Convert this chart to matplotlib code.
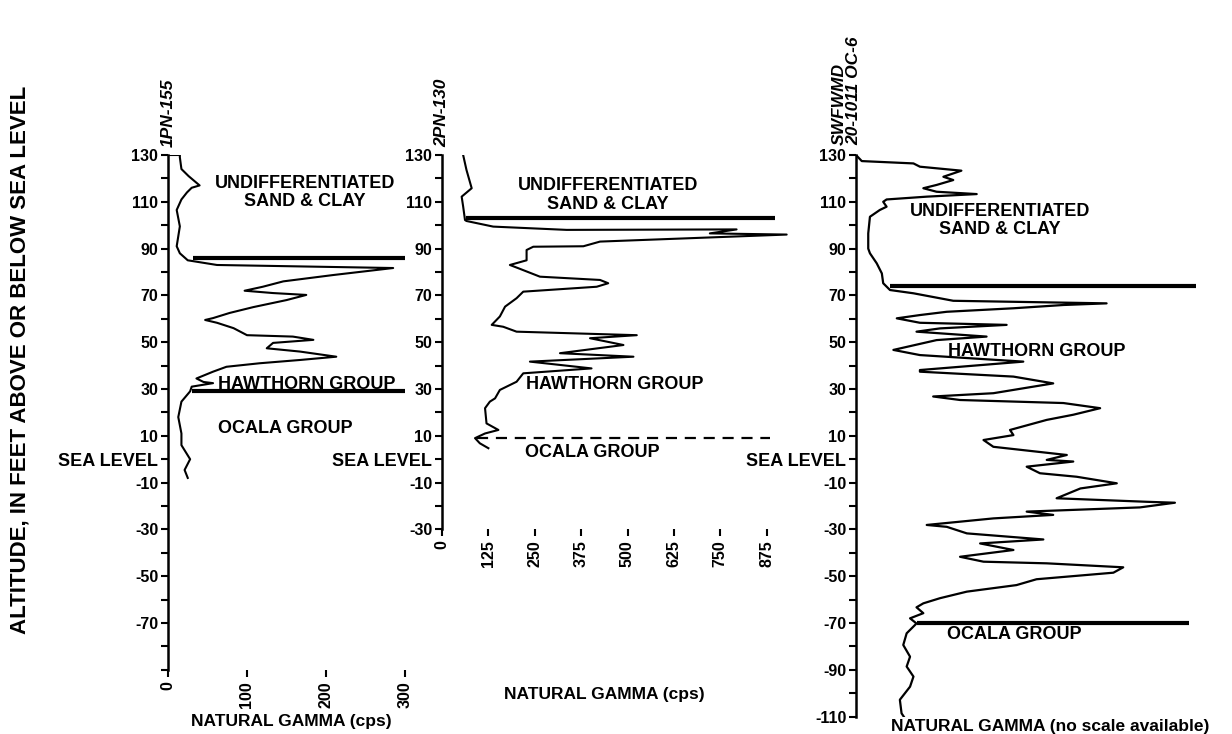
import matplotlib.pyplot as plt

plt.rcParams['font.family'] = ['Liberation Sans', 'DejaVu Sans']
plt.rcParams['font.weight'] = 'bold'

# ---- well 1PN-155 (natural gamma, cps vs altitude, ft) ----
alt_155 = [130, 130, 129, 124, 121, 117, 116, 114, 111, 106.5, 99.5, 91, 88, 85, 83, 81.7,
           78.7, 76, 73.7, 72, 71, 70.2, 68, 65, 62.5, 60.3, 59.5, 58.3, 56, 53, 52.4, 51,
           49.7, 47.4, 46, 43.8, 42.4, 41, 39.5, 37.4, 34.5, 33, 32.5, 31, 29, 24.6, 18,
           11, 6, 0, -4.6, -8]
gam_155 = [0, 15, 15, 17, 26, 40, 30, 24, 17, 11, 15, 11, 15, 25, 62, 285,
           209, 146, 120, 97, 133, 175, 150, 108, 78, 57, 47, 62, 83, 100, 158, 184,
           133, 125, 167, 213, 167, 116, 74, 57, 36, 45, 57, 30, 28, 17, 13,
           17, 17, 28, 21, 25]

# ---- well 2PN-130 ----
alt_130 = [130, 123.6, 115.8, 112.2, 108, 102.2, 101.8, 99.4, 98, 98.2, 96.5, 96, 93, 91,
           90.8, 89.4, 85, 83, 81.6, 78, 76.6, 75.2, 73.7, 71.6, 68.8, 65.2, 61, 57.4,
           56.6, 54.5, 53, 51.7, 48.8, 45.3, 43.8, 41.7, 38.8, 36.7, 33.1, 29.6, 26,
           24.6, 21.8, 15.3, 12.5, 11, 9, 6.8, 4.7]
gam_130 = [57, 66, 80, 53, 57, 62, 66, 138, 336, 794, 722, 929, 426, 381,
           246, 228, 228, 183, 206, 264, 426, 448, 417, 219, 201, 170, 156, 134,
           165, 201, 525, 399, 489, 318, 516, 237, 403, 219, 201, 156, 143,
           129, 116, 120, 152, 116, 89, 102, 125]

# ---- well SWFWMD 20-1011 OC-6 (relative gamma, no scale) ----
alt_oc6 = [130, 127.4, 126.4, 125, 123.3, 120.7, 119.3, 117.2, 115.8, 114.3, 113.3, 112.2,
           111, 110, 107.9, 106.5, 103.6, 96.5, 90, 88, 83.7, 79.4, 75.2, 72.3, 70.9, 67.7,
           66.6, 65.9, 64.5, 63, 61.6, 60.2, 58.3, 57.4, 55.9, 54.5, 52.4, 50.9, 46.7,
           44.5, 41.7, 38.1, 37.4, 35.3, 32.4, 28.2, 26.8, 25.3, 24, 21.8, 19, 16.8, 12.5,
           10.3, 8.2, 5.3, 1.8, -0.3, -1, -3.2, -6, -7.5, -10.3, -12.5, -16.7, -18.2,
           -18.6, -20.6, -22.4, -23.8, -25.3, -28.1, -28.9, -31.7, -34.3, -36, -38.8,
           -41.7, -43.8, -44.5, -46.2, -48.5, -51.3, -53.8, -56.6, -59.4, -61.6, -63.3,
           -65.8, -68, -70.2, -74.4, -79.4, -84.4, -88.6, -92.9, -97.2, -102.8, -108.6, -111]
gam_oc6 = [0, 1.7, 16.9, 18.8, 31, 25.7, 28.6, 23.7, 19.8, 23.7, 35.5, 20.8,
           9, 8, 9, 7, 4.1, 3.6, 3.6, 4.1, 6.1, 7.6, 8, 10, 16.9, 28.6,
           73.7, 61, 46.3, 26.7, 18.8, 12, 18.8, 44.3, 24.7, 17.8, 38.4, 23.7, 11,
           18.8, 49.2, 18.8, 18.8, 46.3, 58, 40.4, 22.7, 30.6, 61, 71.8, 63.9, 56.1, 45.3,
           46.3, 37.5, 40.4, 62, 56.1, 63.9, 50.2, 54.1, 64.9, 76.7, 66, 59, 85.5,
           93.8, 83.5, 50.2, 58, 40.4, 20.8, 26.7, 32.6, 55.1, 36.5, 46.3,
           30.6, 37.5, 56.1, 78.6, 75.7, 53.1, 47.2, 32.6, 24.7, 19.8, 17.8,
           19.8, 15.9, 17.8, 14.9, 13.9, 15.9, 14.9, 16.9, 15.9, 12.9, 13.4, 14.5]

# formation contacts: (altitude, x start, x end)
contacts_155 = [(86, 32, 300), (29, 30, 300)]
contacts_130 = [(103, 66, 898)]
ocala_130 = (9, 93, 884)
contacts_oc6 = [(74, 10, 100), (-70, 18, 98)]

W, H = 1232, 734
PX_FT = 2.34
fig = plt.figure(figsize=(W / 100, H / 100), dpi=100)
fig.patch.set_facecolor('white')


def make_ax(left_px, xmax, px_per_unit, ymin, label_min):
    height = (130 - ymin) * PX_FT
    width = xmax * px_per_unit
    ax = fig.add_axes([left_px / W, (H - 155 - height) / H, width / W, height / H])
    ax.set_xlim(0, xmax)
    ax.set_ylim(ymin, 130)
    for s in ['top', 'right', 'bottom']:
        ax.spines[s].set_visible(False)
    ax.spines['left'].set_linewidth(1.8)
    ax.patch.set_alpha(0)
    yt = list(range(130, ymin - 1, -10))
    labels = []
    for v in yt:
        if v == 0:
            labels.append('SEA LEVEL')
        elif (130 - v) % 20 == 0 and v >= label_min:
            labels.append(str(v))
        else:
            labels.append('')
    ax.set_yticks(yt)
    ax.set_yticklabels(labels)
    ax.tick_params(axis='y', direction='out', length=5, width=1.5, labelsize=11.5, pad=2)
    ax.tick_params(axis='x', direction='out', length=5, width=1.5, labelsize=11.5,
                   labelrotation=90, pad=3)
    for t in ax.get_yticklabels():
        if t.get_text() == 'SEA LEVEL':
            t.set_fontsize(13)
    return ax


ax1 = make_ax(168, 300, 0.79, -90, -70)
ax2 = make_ax(442, 950, 0.371, -30, -30)
ax3 = make_ax(856, 100, 3.4, -110, -110)

ax1.set_xticks([0, 100, 200, 300])
ax2.set_xticks([0, 125, 250, 375, 500, 625, 750, 875])
ax3.set_xticks([])

lab = dict(fontsize=13, ha='center', va='center', linespacing=1.12)

# panel 1
ax1.plot(gam_155, alt_155, color='black', lw=1.5)
for y, x0, x1 in contacts_155:
    ax1.plot([x0, x1], [y, y], color='black', lw=3.0, solid_capstyle='butt')
ax1.text(173, 114, "UNDIFFERENTIATED\nSAND & CLAY", **lab)
ax1.text(176, 32, "HAWTHORN GROUP", **lab)
ax1.text(149, 13, "OCALA GROUP", **lab)
ax1.annotate("1PN-155", xy=(0, 1), xycoords='axes fraction', xytext=(0, 6),
             textcoords='offset points', rotation=90, ha='center', va='bottom',
             fontstyle='italic', fontsize=12.5)
ax1.text(0.52, -0.085, "NATURAL GAMMA (cps)", transform=ax1.transAxes,
         ha='center', va='top', fontsize=12.5)

# panel 2
ax2.plot(gam_130, alt_130, color='black', lw=1.5)
for y, x0, x1 in contacts_130:
    ax2.plot([x0, x1], [y, y], color='black', lw=3.0, solid_capstyle='butt')
ax2.plot([ocala_130[1], ocala_130[2]], [ocala_130[0]] * 2, color='black', lw=1.6,
         linestyle=(0, (5, 3.5)))
ax2.text(447, 113, "UNDIFFERENTIATED\nSAND & CLAY", **lab)
ax2.text(466, 32, "HAWTHORN GROUP", **lab)
ax2.text(405, 3, "OCALA GROUP", **lab)
ax2.annotate("2PN-130", xy=(0, 1), xycoords='axes fraction', xytext=(0, 6),
             textcoords='offset points', rotation=90, ha='center', va='bottom',
             fontstyle='italic', fontsize=12.5)
ax2.text(0.46, -0.42, "NATURAL GAMMA (cps)", transform=ax2.transAxes,
         ha='center', va='top', fontsize=12.5)

# panel 3
ax3.plot(gam_oc6, alt_oc6, color='black', lw=1.6)
for y, x0, x1 in contacts_oc6:
    ax3.plot([x0, x1], [y, y], color='black', lw=3.0, solid_capstyle='butt')
ax3.text(42.4, 102, "UNDIFFERENTIATED\nSAND & CLAY", **lab)
ax3.text(53.3, 46, "HAWTHORN GROUP", **lab)
ax3.text(46.5, -75, "OCALA GROUP", **lab)
ax3.annotate("SWFWMD\n20-1011 OC-6", xy=(0, 1), xycoords='axes fraction', xytext=(-7, 7),
             textcoords='offset points', rotation=90, ha='center', va='bottom',
             multialignment='left', fontstyle='italic', fontsize=12.5, linespacing=0.95)
ax3.text(0.57, -0.005, "NATURAL GAMMA (no scale available)", transform=ax3.transAxes,
         ha='center', va='top', fontsize=12.5)

fig.text(20 / W, 1 - 360 / H, "ALTITUDE, IN FEET ABOVE OR BELOW SEA LEVEL",
         rotation=90, ha='center', va='center', fontsize=16)

fig.savefig("out.png", dpi=100, facecolor='white')
